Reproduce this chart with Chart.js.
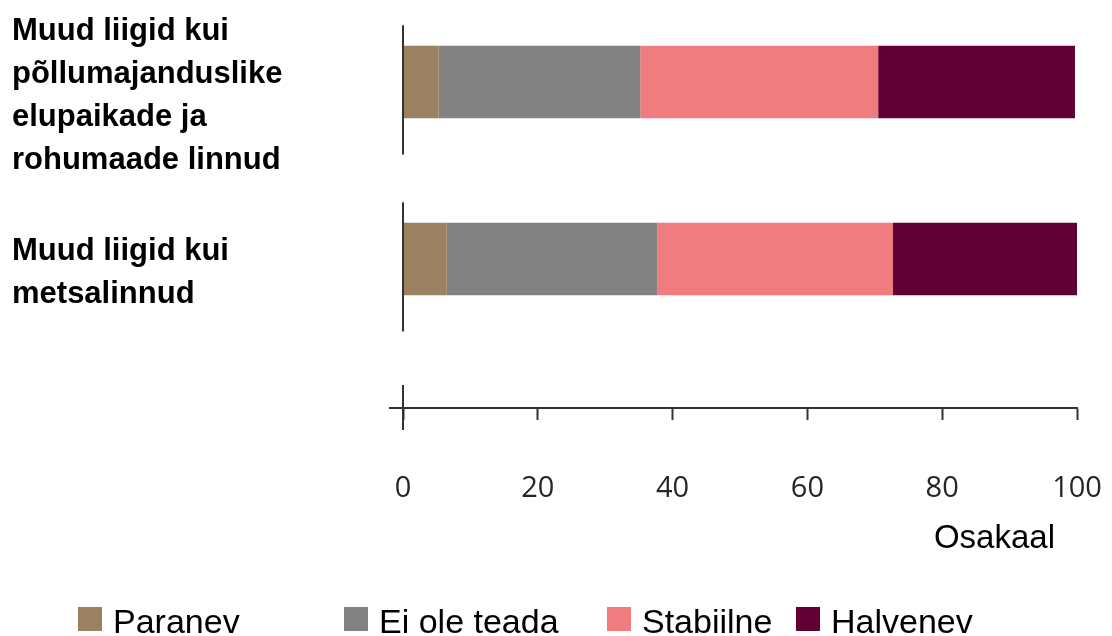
<!DOCTYPE html>
<html>
<head>
<meta charset="utf-8">
<script src="https://cdn.jsdelivr.net/npm/chart.js@4.4.1/dist/chart.umd.min.js"></script>
<style>
  html, body { margin: 0; padding: 0; background: #fff; }
  #wrap { position: relative; width: 1112px; height: 636px; overflow: hidden; }
  .leg { position: absolute; top: 604px; font-family: "Liberation Sans", Arial, sans-serif; font-size: 34px; line-height: 34px; color: #000; white-space: nowrap; }
  .leg i { position: absolute; left: 0; top: 3px; width: 24px; height: 24px; }
  .leg span { position: absolute; left: 35px; top: 0; }
</style>
</head>
<body>
<div id="wrap">
  <canvas id="chart" width="1112" height="636"></canvas>
  <div id="legend"></div>
</div>
<script>
// kategooriad (mitmerealised sildid)
const categories = [
  ["Muud liigid kui", "põllumajanduslike", "elupaikade ja", "rohumaade linnud"],
  ["Muud liigid kui", "metsalinnud"]
];
const seriesNames = ["Paranev", "Ei ole teada", "Stabiilne", "Halvenev"];
const paranev = [5.3, 6.5];
const eiOleTeada = [29.9, 31.2];
const stabiilne = [35.3, 35.0];
const halvenev = [29.2, 27.3];
const xTicks = [0, 20, 40, 60, 80, 100];
const xTitle = "Osakaal";

const colors = ["#9b8061", "#828282", "#f17c80", "#600033"];
const legendLeft = [78, 344, 607, 796];

const seriesValues = [paranev, eiOleTeada, stabiilne, halvenev];

// katkendlik y-telg ja x-telje pealkiri nagu originaalis
const axisPieces = {
  id: "axisPieces",
  afterDraw(chart) {
    const { ctx, chartArea, scales } = chart;
    const x = scales.x, y = scales.y;
    const x0 = x.getPixelForValue(0);
    const band = y.getPixelForValue(1) - y.getPixelForValue(0);
    ctx.save();
    ctx.strokeStyle = "#333";
    ctx.lineWidth = 2;
    categories.forEach((c, i) => {
      const yc = y.getPixelForValue(i);
      ctx.beginPath();
      ctx.moveTo(x0, yc - 0.32 * band);
      ctx.lineTo(x0, yc + 0.41 * band);
      ctx.stroke();
    });
    ctx.beginPath();
    ctx.moveTo(x0, chartArea.bottom - 0.13 * band);
    ctx.lineTo(x0, chartArea.bottom + 22);
    ctx.moveTo(x0 - 14, chartArea.bottom);
    ctx.lineTo(x0, chartArea.bottom);
    ctx.stroke();

    ctx.fillStyle = "#000";
    ctx.font = '33px "Liberation Sans"';
    ctx.textAlign = "right";
    ctx.textBaseline = "middle";
    ctx.fillText(xTitle, x.right - 22, chartArea.bottom + 131);
    ctx.restore();
  }
};

const ctx = document.getElementById("chart").getContext("2d");

new Chart(ctx, {
  type: "bar",
  data: {
    datasets: seriesNames.map((name, s) => ({
      label: name,
      data: seriesValues[s].map((v, i) => ({ x: v, y: i })),
      backgroundColor: colors[s],
      borderWidth: 0,
      categoryPercentage: 1,
      barPercentage: 0.41
    }))
  },
  options: {
    indexAxis: "y",
    responsive: false,
    animation: false,
    devicePixelRatio: 1,
    layout: { padding: { left: 12, right: 35, top: 0, bottom: 78 } },
    plugins: {
      legend: { display: false },
      tooltip: { enabled: false }
    },
    scales: {
      x: {
        type: "linear",
        stacked: true,
        min: 0,
        max: 100,
        afterBuildTicks: s => { s.ticks = xTicks.map(v => ({ value: v })); },
        afterFit: s => { s.height = 150; s.paddingLeft = 0; s.paddingRight = 0; },
        grid: { drawOnChartArea: false, drawTicks: true, tickLength: 12, tickWidth: 2, tickColor: "#333" },
        border: { display: true, color: "#333", width: 2 },
        ticks: { padding: 51, color: "#262626", font: { family: "Open Sans", size: 29 } }
      },
      y: {
        type: "linear",
        stacked: true,
        reverse: true,
        offset: false,
        min: -0.463,
        max: 1.842,
        afterBuildTicks: s => { s.ticks = categories.map((c, i) => ({ value: i })); },
        afterFit: s => { s.width = 391; s.paddingTop = 0; s.paddingBottom = 0; },
        grid: { display: false, drawTicks: false, offset: false },
        border: { display: false },
        ticks: {
          callback: v => categories[v],
          crossAlign: "far",
          labelOffset: 14,
          padding: 0,
          color: "#000",
          font: { family: "Liberation Sans", weight: "bold", size: 31, lineHeight: 1.38 }
        }
      }
    }
  },
  plugins: [axisPieces]
});

// legend
const legend = document.getElementById("legend");
seriesNames.forEach((name, s) => {
  const d = document.createElement("div");
  d.className = "leg";
  d.style.left = legendLeft[s] + "px";
  d.innerHTML = '<i style="background:' + colors[s] + '"></i><span>' + name + "</span>";
  legend.appendChild(d);
});
</script>
</body>
</html>
